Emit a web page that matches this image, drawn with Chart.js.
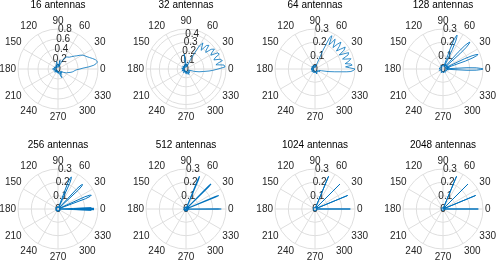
<!DOCTYPE html>
<html>
<head>
<meta charset="utf-8">
<script src="https://cdn.jsdelivr.net/npm/chart.js@4.4.1/dist/chart.umd.min.js"></script>
<style>
  html, body { margin: 0; padding: 0; background: #fff; }
  #wrap { position: relative; width: 498px; height: 263px; overflow: hidden; }
  #wrap canvas { position: absolute; }
</style>
</head>
<body>
<div id="wrap"></div>
<script>
// panel titles
const titles = ['16 antennas', '32 antennas', '64 antennas', '128 antennas',
                '256 antennas', '512 antennas', '1024 antennas', '2048 antennas'];

// angle ticks (degrees)
const angleTickLabels = ['0', '30', '60', '90', '120', '150', '180', '210', '240', '270', '300', '330'];

// radial limits, grid rings and r tick labels
const rLimits = [0.8, 0.45, 0.3, 0.3, 0.3, 0.3, 0.3, 0.3];
const rings16 = [0, 0.2, 0.4, 0.6, 0.8];
const rings32 = [0, 0.1, 0.2, 0.3, 0.4, 0.45];
const rings64 = [0, 0.1, 0.2, 0.3];
const rTicks16 = ['0', '0.2', '0.4', '0.6', '0.8'];
const rTicks32 = ['0', '0.1', '0.2', '0.3', '0.4'];
const rTicks64 = ['0', '0.1', '0.2', '0.3'];

// line width per panel (the wide-array panels read a little heavier)
const lineWidths = [0.8, 0.8, 0.8, 0.9, 1, 1.1, 1, 1];

// beam patterns: vertex angles (deg) and magnitudes
const ant16Angle = [0, 2, 4, 6, 8, 10, 12, 14, 17, 20, 23, 26, 29, 32, 35, 38, 42, 46, 50, 54, 58, 62, 66, 70, 73, 77, 80, 85, 90, 96, 100, 110, 117, 124, 131, 140, 148, 156, 164, 172, 180, 187, 194, 202, 210, 218, 226, 234, 242, 250, 258, 266, 274, 282, 288, 294, 298, 304, 310, 316, 322, 328, 333, 336, 340, 344, 348, 352, 355, 358];
const ant16Radius = [0.44, 0.5, 0.62, 0.72, 0.77, 0.8, 0.79, 0.77, 0.72, 0.67, 0.63, 0.6, 0.57, 0.52, 0.46, 0.42, 0.37, 0.33, 0.31, 0.3, 0.26, 0.2, 0.12, 0.05, 0.1, 0.18, 0.06, 0.09, 0.03, 0.07, 0.15, 0.1, 0.05, 0.08, 0.03, 0.07, 0.04, 0.09, 0.05, 0.08, 0.11, 0.06, 0.09, 0.03, 0.08, 0.05, 0.09, 0.04, 0.07, 0.03, 0.08, 0.05, 0.09, 0.06, 0.12, 0.19, 0.08, 0.13, 0.06, 0.11, 0.08, 0.13, 0.16, 0.19, 0.21, 0.25, 0.29, 0.32, 0.34, 0.38];

const ant32Angle = [0, 3, 6, 8, 10, 13, 16, 18, 21, 24, 27, 29, 32, 35, 38, 40, 43, 46, 49, 51, 54, 57, 60, 62, 65, 68, 72, 78, 84, 90, 97, 101, 108, 115, 122, 130, 138, 146, 154, 162, 170, 178, 186, 194, 202, 210, 218, 226, 234, 242, 250, 258, 266, 274, 282, 290, 298, 306, 314, 322, 330, 338, 344, 348, 352, 355, 357];
const ant32Radius = [0.36, 0.44, 0.43, 0.34, 0.36, 0.42, 0.4, 0.33, 0.35, 0.41, 0.4, 0.32, 0.34, 0.39, 0.36, 0.29, 0.31, 0.37, 0.35, 0.27, 0.3, 0.35, 0.3, 0.2, 0.12, 0.04, 0.03, 0.06, 0.02, 0.05, 0.17, 0.03, 0.05, 0.02, 0.04, 0.02, 0.05, 0.02, 0.04, 0.02, 0.05, 0.03, 0.04, 0.02, 0.05, 0.02, 0.04, 0.02, 0.05, 0.03, 0.04, 0.02, 0.05, 0.03, 0.06, 0.03, 0.07, 0.04, 0.06, 0.03, 0.05, 0.03, 0.1, 0.15, 0.2, 0.26, 0.3];

const ant64Angle = [0, 2, 4, 6, 8, 10, 13, 16, 18, 20, 23, 26, 28, 30, 33, 36, 38, 40, 43, 46, 48, 50, 53, 56, 58, 60, 63, 65, 67, 69, 74, 80, 86, 92, 100, 110, 120, 130, 140, 150, 160, 170, 180, 190, 200, 210, 220, 230, 240, 250, 260, 270, 280, 290, 300, 310, 320, 330, 340, 345, 349, 352, 354, 355, 356, 358];
const ant64Radius = [0.3, 0.26, 0.23, 0.28, 0.27, 0.23, 0.26, 0.28, 0.24, 0.22, 0.27, 0.28, 0.24, 0.21, 0.26, 0.28, 0.24, 0.21, 0.25, 0.28, 0.25, 0.21, 0.24, 0.27, 0.23, 0.21, 0.28, 0.26, 0.15, 0.05, 0.02, 0.03, 0.01, 0.03, 0.02, 0.03, 0.01, 0.03, 0.02, 0.03, 0.01, 0.03, 0.02, 0.03, 0.01, 0.03, 0.02, 0.03, 0.01, 0.03, 0.02, 0.03, 0.02, 0.04, 0.02, 0.03, 0.02, 0.04, 0.03, 0.05, 0.1, 0.15, 0.2, 0.24, 0.27, 0.29];

const ant128Angle = [-4, -3, -2, -1, 0, 1, 2, 3, 4, 7, 11, 15, 18.5, 19.5, 20.5, 21.5, 22.5, 23.5, 24.5, 25.5, 26.5, 30, 34, 38, 41, 42, 43, 44, 45, 46, 47, 48, 49, 52, 56, 60, 63.5, 64.5, 65.5, 66.5, 67.5, 68.5, 69.5, 70.5, 71.5, 76, 84, 95, 110, 125, 140, 155, 170, 185, 200, 215, 230, 245, 260, 275, 290, 305, 320, 335, 346, 351];
const ant128Radius = [0.03, 0.18, 0.25, 0.28, 0.3, 0.28, 0.25, 0.18, 0.03, 0.04, 0.02, 0.05, 0.03, 0.18, 0.24, 0.27, 0.285, 0.27, 0.24, 0.18, 0.03, 0.04, 0.02, 0.04, 0.03, 0.17, 0.24, 0.27, 0.285, 0.27, 0.24, 0.17, 0.03, 0.04, 0.02, 0.04, 0.03, 0.16, 0.23, 0.26, 0.275, 0.26, 0.23, 0.16, 0.03, 0.03, 0.02, 0.03, 0.02, 0.03, 0.01, 0.02, 0.03, 0.02, 0.03, 0.01, 0.02, 0.03, 0.02, 0.03, 0.02, 0.03, 0.02, 0.03, 0.02, 0.04];

const ant256Angle = [-2.5, -2, -1.5, -1, -0.5, 0, 0.5, 1, 1.5, 2, 2.5, 6, 10, 15, 20, 20.5, 21.5, 22.5, 23.5, 24.5, 25, 29, 34, 39, 42.5, 43, 44, 45, 46, 47, 47.5, 51, 56, 61, 65, 65.5, 66.5, 67.5, 68.5, 69.5, 70, 75, 85, 100, 120, 140, 160, 180, 200, 220, 240, 260, 280, 300, 320, 340, 350];
const ant256Radius = [0.02, 0.25, 0.12, 0.27, 0.15, 0.27, 0.15, 0.27, 0.12, 0.25, 0.02, 0.02, 0.01, 0.02, 0.02, 0.22, 0.26, 0.27, 0.26, 0.22, 0.02, 0.02, 0.01, 0.02, 0.02, 0.21, 0.25, 0.26, 0.25, 0.21, 0.02, 0.02, 0.01, 0.02, 0.02, 0.21, 0.25, 0.26, 0.25, 0.21, 0.02, 0.02, 0.01, 0.02, 0.01, 0.02, 0.01, 0.02, 0.01, 0.02, 0.01, 0.02, 0.01, 0.02, 0.01, 0.02, 0.01];

const ant512Angle = [-1, -0.5, 0, 0.5, 1, 8, 15, 21.5, 22, 22.5, 23, 23.5, 30, 37, 44, 44.5, 45, 45.5, 46, 52, 59, 66.5, 67, 67.5, 68, 68.5, 75, 90, 110, 130, 150, 170, 190, 210, 230, 250, 270, 290, 310, 330, 350];
const ant512Radius = [0.01, 0.24, 0.265, 0.24, 0.01, 0.015, 0.01, 0.01, 0.24, 0.265, 0.24, 0.01, 0.015, 0.01, 0.01, 0.24, 0.265, 0.24, 0.01, 0.015, 0.01, 0.01, 0.24, 0.265, 0.24, 0.01, 0.015, 0.01, 0.015, 0.01, 0.015, 0.01, 0.015, 0.01, 0.015, 0.01, 0.015, 0.01, 0.015, 0.01, 0.015];

const ant1024Angle = [-0.5, 0, 0.5, 8, 15, 22, 22.5, 23, 30, 37, 44.5, 45, 45.5, 52, 59, 67, 67.5, 68, 75, 90, 110, 130, 150, 170, 190, 210, 230, 250, 270, 290, 310, 330, 350];
const ant1024Radius = [0.015, 0.265, 0.015, 0.01, 0.015, 0.015, 0.265, 0.015, 0.01, 0.015, 0.015, 0.265, 0.015, 0.01, 0.015, 0.015, 0.265, 0.015, 0.01, 0.015, 0.01, 0.015, 0.01, 0.015, 0.01, 0.015, 0.01, 0.015, 0.01, 0.015, 0.01, 0.015, 0.01];

const ant2048Angle = [-0.5, 0, 0.5, 8, 15, 22, 22.5, 23, 30, 37, 44.5, 45, 45.5, 52, 59, 67, 67.5, 68, 75, 90, 110, 130, 150, 170, 190, 210, 230, 250, 270, 290, 310, 330, 350];
const ant2048Radius = [0.005, 0.265, 0.005, 0.01, 0.012, 0.005, 0.265, 0.005, 0.01, 0.012, 0.005, 0.265, 0.005, 0.01, 0.012, 0.005, 0.265, 0.005, 0.01, 0.012, 0.01, 0.012, 0.01, 0.012, 0.01, 0.012, 0.01, 0.012, 0.01, 0.012, 0.01, 0.012, 0.01];

const FONT = '"Liberation Sans", Arial, Helvetica, sans-serif';
const GRID = '#dedede';
const LINE = '#0072BD';
Chart.defaults.font.family = FONT;
Chart.defaults.font.size = 10;
Chart.defaults.color = '#262626';

// radar slots every half degree, slot i at (90 - i/2) deg (clockwise from top)
const STEP = 0.5;
const SLOTS = 720;
function slotOf(deg) {
  return Math.round(((((90 - deg) % 360) + 360) % 360) / STEP) % SLOTS;
}
const slotLabels = new Array(SLOTS).fill('');
angleTickLabels.forEach(t => { slotLabels[slotOf(Number(t))] = t; });
// an empty label just above 0 deg gets extra padding so the fit stays centred
const spacerSlot = slotOf(1);

function toSlots(angles, radii) {
  const out = new Array(SLOTS).fill(null);
  angles.forEach((a, k) => { out[slotOf(a)] = radii[k]; });
  return out;
}

// r tick labels sit along the 80 degree direction, like matlab
const rTickLabels = {
  id: 'rTickLabels',
  beforeDatasetsDraw(chart, args, opts) {
    const r = chart.scales.r;
    const ctx = chart.ctx;
    const a = opts.angle * Math.PI / 180;
    ctx.save();
    ctx.font = '10px ' + FONT;
    ctx.fillStyle = '#262626';
    ctx.textAlign = 'center';
    ctx.textBaseline = 'middle';
    (opts.labels || []).forEach(t => {
      const d = r.getDistanceFromCenterForValue(Number(t));
      ctx.fillText(t, r.xCenter + d * Math.cos(a), r.yCenter - d * Math.sin(a));
    });
    ctx.restore();
  }
};

const panels = [
  [ant16Angle, ant16Radius, rings16, rTicks16],
  [ant32Angle, ant32Radius, rings32, rTicks32],
  [ant64Angle, ant64Radius, rings64, rTicks64],
  [ant128Angle, ant128Radius, rings64, rTicks64],
  [ant256Angle, ant256Radius, rings64, rTicks64],
  [ant512Angle, ant512Radius, rings64, rTicks64],
  [ant1024Angle, ant1024Radius, rings64, rTicks64],
  [ant2048Angle, ant2048Radius, rings64, rTicks64],
];

const colLeft = [-6, 122, 251, 379];
const rowTop = [0, 140];
const wrap = document.getElementById('wrap');

panels.forEach(([angles, radii, rings, rTicks], k) => {
  const canvas = document.createElement('canvas');
  canvas.width = 128;
  canvas.height = 123;
  canvas.style.left = colLeft[k % 4] + 'px';
  canvas.style.top = rowTop[Math.floor(k / 4)] + 'px';
  wrap.appendChild(canvas);

  new Chart(canvas, {
    type: 'radar',
    data: {
      labels: slotLabels,
      datasets: [{
        data: toSlots(angles, radii),
        borderColor: LINE,
        borderWidth: lineWidths[k],
        pointRadius: 0,
        fill: false,
        spanGaps: true,
        tension: 0,
      }],
    },
    options: {
      responsive: false,
      animation: false,
      events: [],
      scales: {
        r: {
          min: 0,
          max: rLimits[k],
          startAngle: 0,
          afterBuildTicks: s => { s.ticks = rings.map(v => ({ value: v })); },
          ticks: { display: false },
          grid: { circular: true, color: GRID, lineWidth: 1 },
          angleLines: { color: GRID, lineWidth: c => (c.index % 60 === 0 ? 1 : 0) },
          pointLabels: {
            padding: c => (c.index === spacerSlot ? 17.7 : 2),
            color: '#262626',
            font: { size: 10 },
          },
        },
      },
      plugins: {
        legend: { display: false },
        tooltip: { enabled: false },
        title: {
          display: true,
          text: titles[k],
          color: '#000',
          font: { size: 10, weight: 'normal', lineHeight: 1 },
          padding: { top: 0, bottom: 5 },
        },
        rTickLabels: { labels: rTicks, angle: 80 },
      },
    },
    plugins: [rTickLabels],
  });
});
</script>
</body>
</html>
